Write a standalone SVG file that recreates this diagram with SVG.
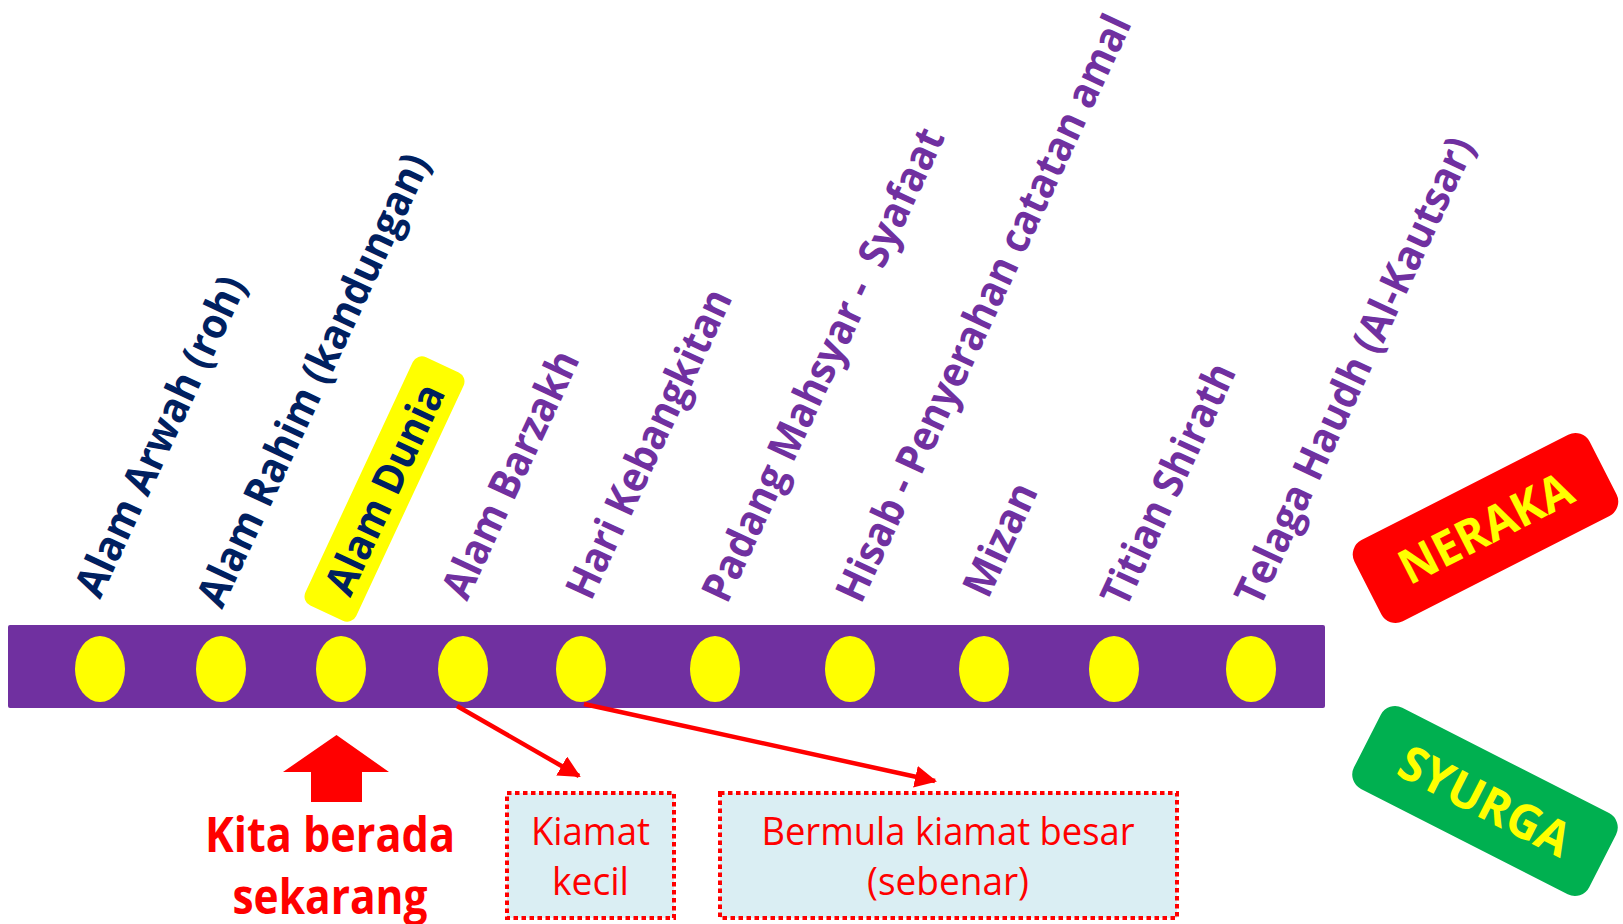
<svg xmlns="http://www.w3.org/2000/svg" width="1623" height="924" viewBox="0 0 1623 924">
<defs>
<style>
.lbl{font-family:"Open Sans","Liberation Sans",sans-serif;font-weight:bold;font-size:42px}
.navy{fill:#002060}
.purp{fill:#7030A0}
.dot{fill:#FFFF00}
.red{fill:#FF0000}
.boxt{font-family:"Open Sans","Liberation Sans",sans-serif;font-size:38px;fill:#FF0000;text-anchor:middle}
.big{font-family:"Open Sans","Liberation Sans",sans-serif;font-weight:bold;font-size:48px;text-anchor:middle}
.dbox{fill:#DAEEF3;stroke:#FF0000;stroke-width:4;stroke-dasharray:4.5 3.5}
.conn{stroke:#FF0000;stroke-width:4.5;fill:none}
</style>
<marker id="ah" markerUnits="userSpaceOnUse" markerWidth="24" markerHeight="22" refX="20" refY="11" orient="auto">
<path d="M0,0 L22,11 L0,22 z" fill="#FF0000"/>
</marker>
</defs>
<rect width="1623" height="924" fill="#FFFFFF"/>

<g id="timeline">
<rect x="8" y="625" width="1317" height="83" rx="2" fill="#7030A0"/>
<ellipse class="dot" cx="100" cy="669" rx="25" ry="33"/>
<ellipse class="dot" cx="221" cy="669" rx="25" ry="33"/>
<ellipse class="dot" cx="341" cy="669" rx="25" ry="33"/>
<ellipse class="dot" cx="463" cy="669" rx="25" ry="33"/>
<ellipse class="dot" cx="581" cy="669" rx="25" ry="33"/>
<ellipse class="dot" cx="715" cy="669" rx="25" ry="33"/>
<ellipse class="dot" cx="850" cy="669" rx="25" ry="33"/>
<ellipse class="dot" cx="984" cy="669" rx="25" ry="33"/>
<ellipse class="dot" cx="1114" cy="669" rx="25" ry="33"/>
<ellipse class="dot" cx="1251" cy="669" rx="25" ry="33"/>
</g>

<g id="label-arwah"><text class="lbl navy" transform="translate(100,600) rotate(-65)" textLength="348" lengthAdjust="spacingAndGlyphs">Alam Arwah (roh)</text></g>
<g id="label-rahim"><text class="lbl navy" transform="translate(222,610) rotate(-65)" textLength="494" lengthAdjust="spacingAndGlyphs">Alam Rahim (kandungan)</text></g>
<g id="label-dunia" transform="translate(384.5,489) rotate(-65)">
<rect x="-137" y="-28" width="274" height="56" rx="10" fill="#FFFF00"/>
<text class="lbl navy" x="0" y="15" text-anchor="middle" textLength="227" lengthAdjust="spacingAndGlyphs">Alam Dunia</text>
</g>
<g id="label-barzakh"><text class="lbl purp" transform="translate(467,602) rotate(-65)" textLength="268" lengthAdjust="spacingAndGlyphs">Alam Barzakh</text></g>
<g id="label-kebangkitan"><text class="lbl purp" transform="translate(591,602) rotate(-65)" textLength="336" lengthAdjust="spacingAndGlyphs">Hari Kebangkitan</text></g>
<g id="label-mahsyar"><text class="lbl purp" transform="translate(727,605) rotate(-65)" textLength="517" lengthAdjust="spacingAndGlyphs" xml:space="preserve">Padang Mahsyar -  Syafaat</text></g>
<g id="label-hisab"><text class="lbl purp" transform="translate(861,605) rotate(-65)" textLength="642" lengthAdjust="spacingAndGlyphs">Hisab - Penyerahan catatan amal</text></g>
<g id="label-mizan"><text class="lbl purp" transform="translate(988,600) rotate(-65)" textLength="120" lengthAdjust="spacingAndGlyphs">Mizan</text></g>
<g id="label-shirath"><text class="lbl purp" transform="translate(1126,609) rotate(-65)" textLength="262" lengthAdjust="spacingAndGlyphs">Titian Shirath</text></g>
<g id="label-haudh"><text class="lbl purp" transform="translate(1260,608) rotate(-65)" textLength="510" lengthAdjust="spacingAndGlyphs">Telaga Haudh (Al-Kautsar)</text></g>

<g id="neraka" transform="translate(1485.5,528) rotate(-27)">
<rect x="-132" y="-45.5" width="264" height="91" rx="16" fill="#FF0000"/>
<text class="big" x="0" y="17" fill="#FFFF00" textLength="188" lengthAdjust="spacingAndGlyphs">NERAKA</text>
</g>
<g id="syurga" transform="translate(1485,801) rotate(27)">
<rect x="-132" y="-45.5" width="264" height="91" rx="16" fill="#00B050"/>
<text class="big" x="0" y="17" fill="#FFFF00" textLength="186" lengthAdjust="spacingAndGlyphs">SYURGA</text>
</g>

<g id="kita">
<path class="red" d="M336.5,735 L389,772 L362,772 L362,802 L311,802 L311,772 L283,772 Z"/>
<text class="big" x="330" y="852" fill="#FF0000" textLength="250" lengthAdjust="spacingAndGlyphs">Kita berada</text>
<text class="big" x="330" y="914" fill="#FF0000" textLength="195" lengthAdjust="spacingAndGlyphs">sekarang</text>
</g>

<g id="kiamat-kecil">
<rect class="dbox" x="507" y="793" width="167" height="125"/>
<text class="boxt" x="590.5" y="845" textLength="119" lengthAdjust="spacingAndGlyphs">Kiamat</text>
<text class="boxt" x="590.5" y="895" textLength="77" lengthAdjust="spacingAndGlyphs">kecil</text>
</g>
<g id="kiamat-besar">
<rect class="dbox" x="720" y="793" width="457" height="125"/>
<text class="boxt" x="948" y="845" textLength="373" lengthAdjust="spacingAndGlyphs">Bermula kiamat besar</text>
<text class="boxt" x="948" y="895" textLength="162" lengthAdjust="spacingAndGlyphs">(sebenar)</text>
</g>

<g id="connectors">
<line class="conn" x1="457" y1="706" x2="579" y2="776" marker-end="url(#ah)"/>
<line class="conn" x1="584" y1="704" x2="935" y2="781" marker-end="url(#ah)"/>
</g>
</svg>
